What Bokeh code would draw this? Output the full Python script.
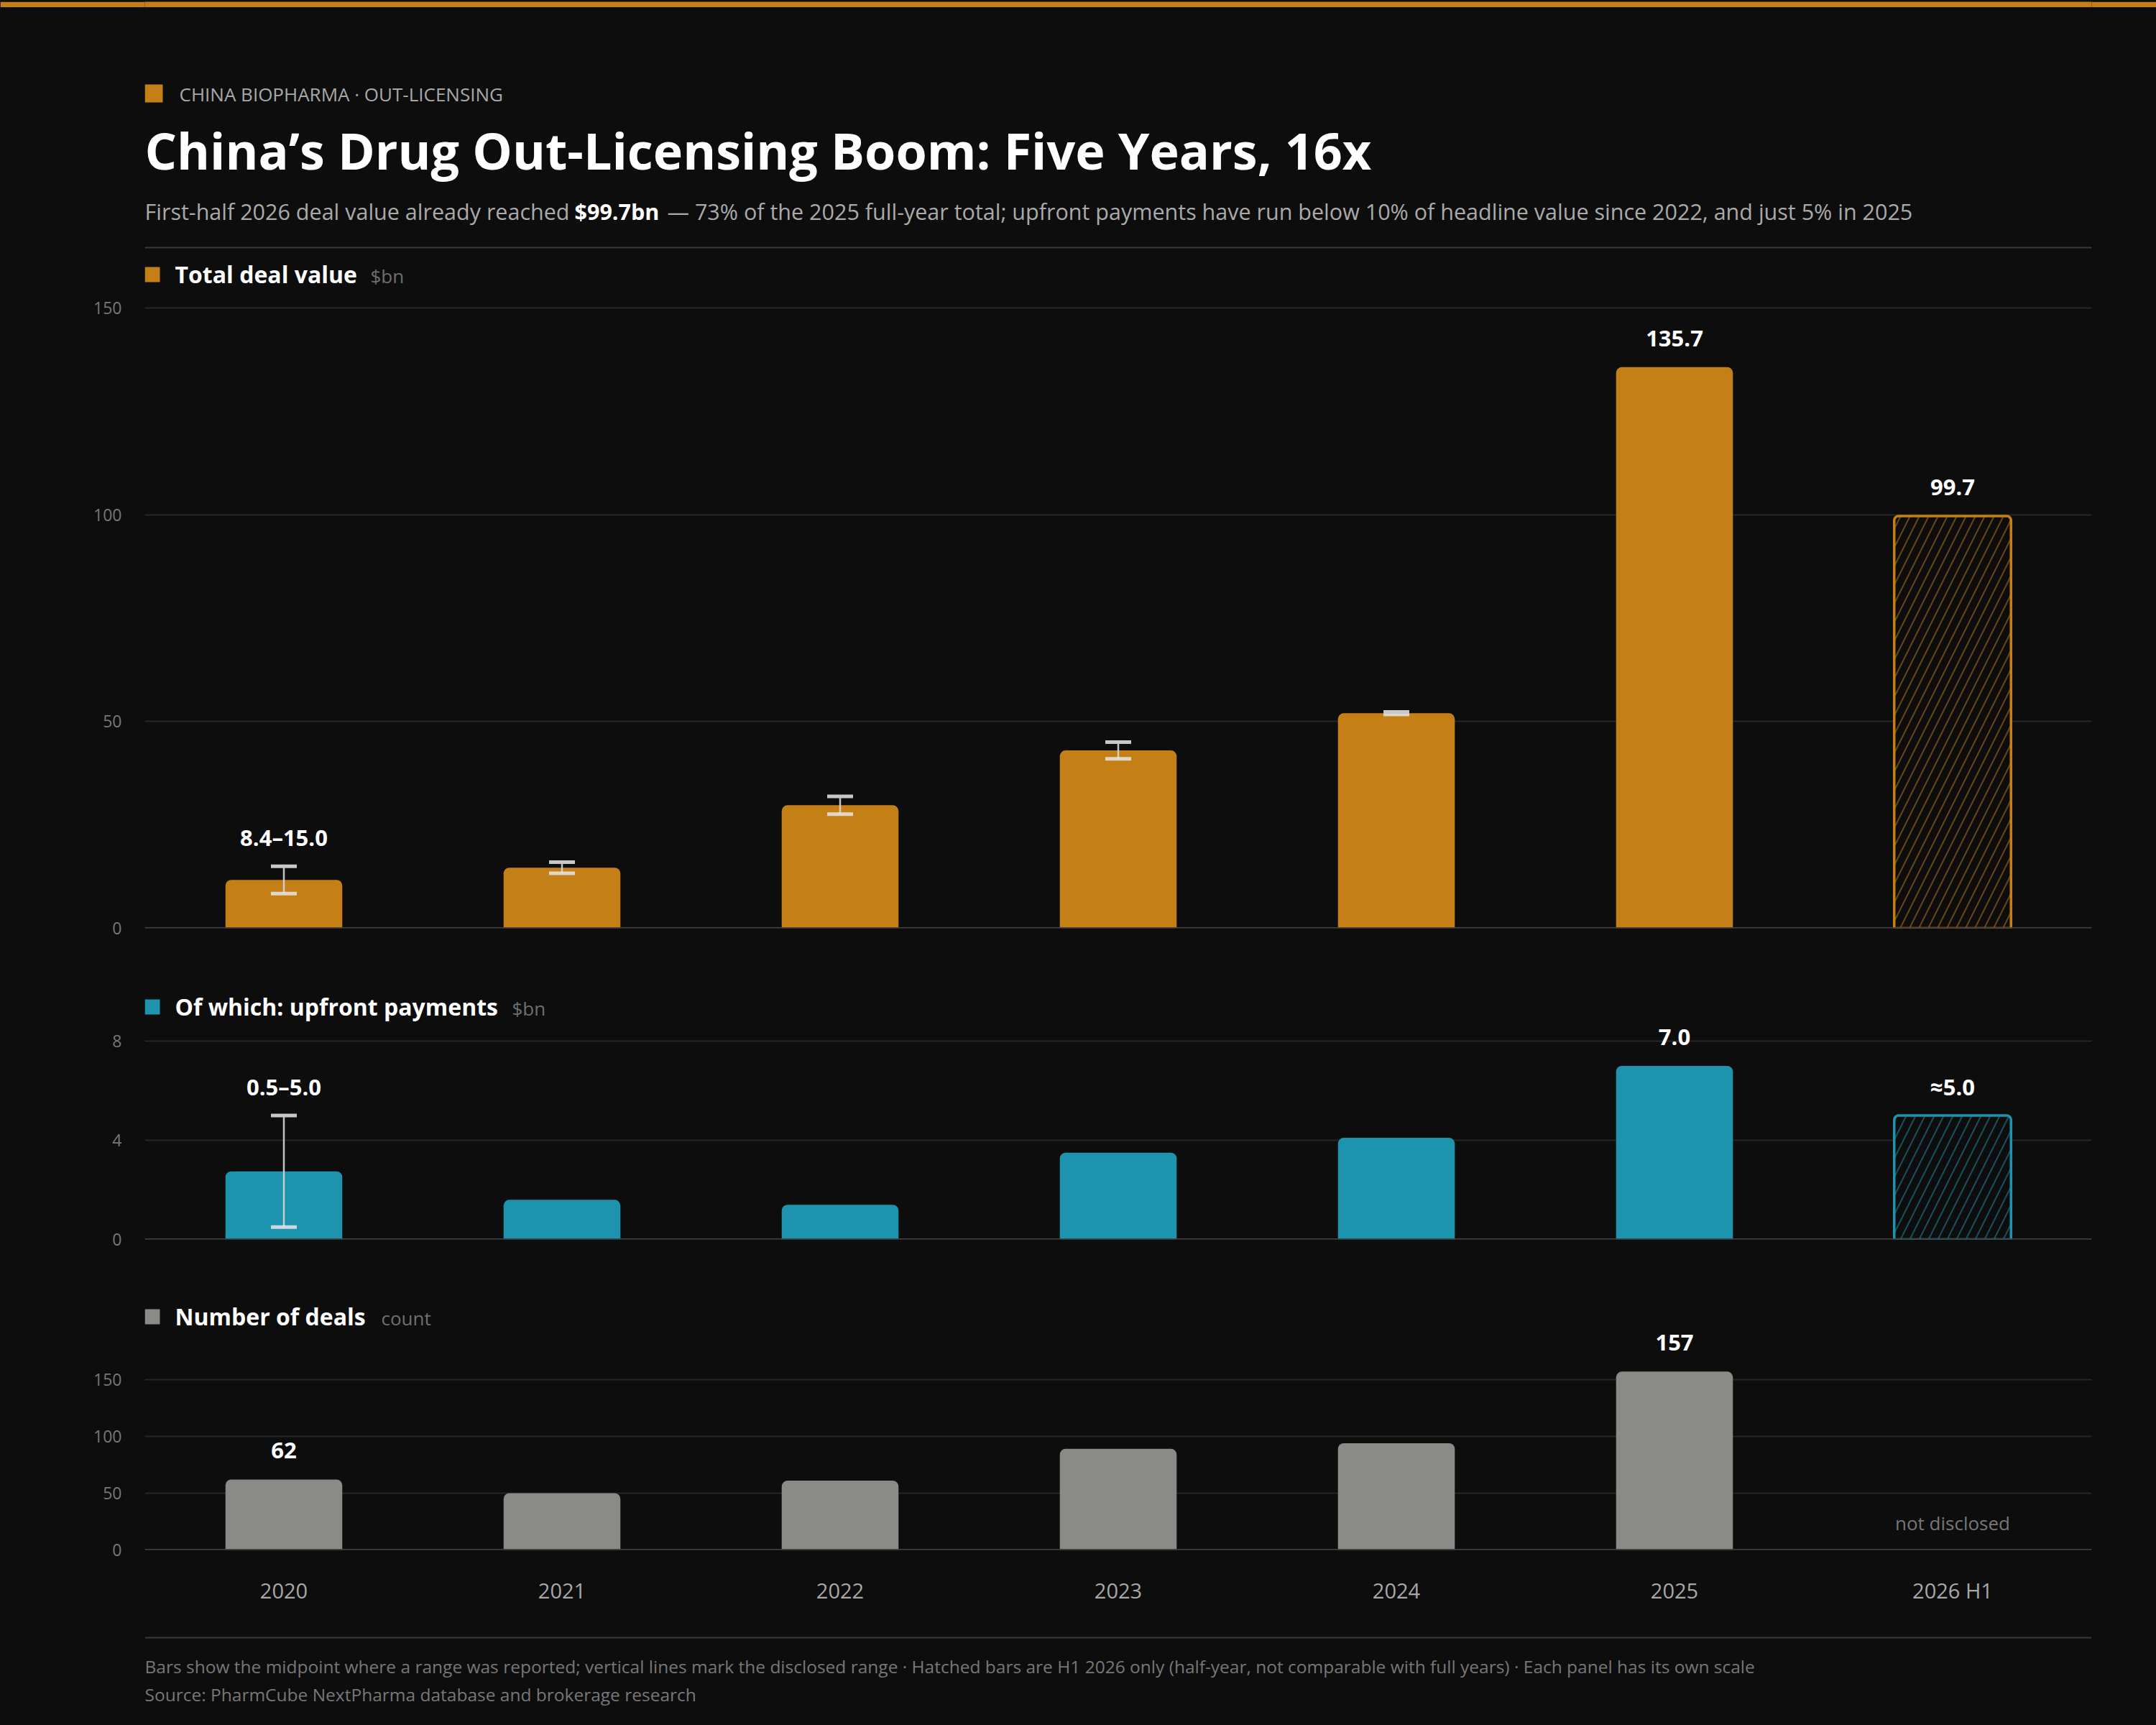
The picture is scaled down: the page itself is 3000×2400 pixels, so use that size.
from bokeh.plotting import figure
from bokeh.models import (Range1d, FixedTicker, Span, Whisker, TeeHead,
                          ColumnDataSource, LinearScale)
from bokeh.layouts import column
from bokeh.embed import file_html
from bokeh.resources import INLINE
from bokeh.core.properties import value

# ---------------- data ----------------
years = ["2020", "2021", "2022", "2023", "2024", "2025", "2026 H1"]

total_value = [11.7, 14.65, 29.75, 43.0, 52.0, 135.7, 99.7]
total_low = [8.4, 13.3, 27.6, 41.0, 51.7, None, None]
total_high = [15.0, 16.0, 31.9, 45.0, 52.3, None, None]
total_labels = ["8.4–15.0", "", "", "", "", "135.7", "99.7"]
total_ticks = [0, 50, 100, 150]

upfront_value = [2.75, 1.6, 1.4, 3.5, 4.1, 7.0, 5.0]
upfront_low = [0.5, None, None, None, None, None, None]
upfront_high = [5.0, None, None, None, None, None, None]
upfront_labels = ["0.5–5.0", "", "", "", "", "7.0", "≈5.0"]
upfront_ticks = [0, 4, 8]

deal_counts = [62, 50, 61, 89, 94, 157, None]
deal_labels = ["62", "", "", "", "", "157", ""]
deal_ticks = [0, 50, 100, 150]

# ---------------- style ----------------
W = 3000
BG = "#0d0d0d"
ORANGE = "#c47f16"
TEAL = "#1e93ae"
GREY = "#8a8b86"
FONT = "Open Sans"
LEFT = 201
RIGHT = 2910

pos = list(range(len(years)))          # category slots on the x axis


def text_fig(y0, y1):
    p = figure(width=W, height=y1 - y0, x_range=Range1d(LEFT, RIGHT), y_range=Range1d(y1, y0),
               output_backend="svg", toolbar_location=None, x_axis_type=None, y_axis_type=None,
               min_border_left=LEFT, min_border_right=W - RIGHT, min_border_top=0, min_border_bottom=0,
               background_fill_color=BG, border_fill_color=BG, outline_line_color=None)
    p.xgrid.visible = False
    p.ygrid.visible = False
    return p


def txt(p, x, y, s, size, color, bold=False, align="left", baseline="middle", **kw):
    p.text(x=[x], y=[y], text=[s], text_font=value(FONT), text_font_size=value(f"{size}px"),
           text_color=color, text_font_style="bold" if bold else "normal",
           text_align=align, text_baseline=baseline, **kw)


def square(p, x0, y0, size, color, **kw):
    p.quad(left=[x0], right=[x0 + size], top=[y0], bottom=[y0 + size], fill_color=color,
           line_color=None, **kw)


# ---------------- top stripe ----------------
stripe = figure(width=W, height=10, output_backend="svg", toolbar_location=None,
                x_axis_type=None, y_axis_type=None, min_border_left=LEFT, min_border_right=W - RIGHT,
                min_border_top=0, min_border_bottom=0,
                background_fill_color=ORANGE, border_fill_color=ORANGE, outline_line_color=None)
stripe.xgrid.visible = False
stripe.ygrid.visible = False
stripe.quad(left=[0], right=[1], top=[1], bottom=[0], fill_color=ORANGE, line_color=None)

# ---------------- header ----------------
h1 = text_fig(10, 350)
square(h1, LEFT, 117, 25, ORANGE)
txt(h1, 249, 130, "CHINA BIOPHARMA · OUT-LICENSING", 26, "#a8a8a8")
txt(h1, LEFT, 208, "China’s Drug Out-Licensing Boom: Five Years, 16x", 70, "#ffffff", bold=True)
txt(h1, LEFT, 293, "First-half 2026 deal value already reached", 30.5, "#aaaaaa")
txt(h1, 799, 293, "$99.7bn", 30.5, "#ffffff", bold=True)
txt(h1, 928, 293, "— 73% of the 2025 full-year total; upfront payments have run below 10% of headline value since 2022, and just 5% in 2025", 30.5, "#aaaaaa")
h1.segment(x0=[LEFT], x1=[RIGHT], y0=[344], y1=[344], line_color="#3a3a3a", line_width=2)


# ---------------- panels ----------------
def panel(vals, lows, highs, labels, ticks, color, fig_top, zero_px, unit_px, bottom_border,
          title, unit, unit_x, title_y, show_x=False):
    frame_h = zero_px - fig_top
    ymax = frame_h / unit_px
    p = figure(width=W, height=frame_h + bottom_border,
               x_range=Range1d(-0.5, len(years) - 0.5),
               y_range=Range1d(0, ymax), output_backend="svg", toolbar_location=None,
               min_border_left=LEFT, min_border_right=W - RIGHT, min_border_top=0,
               min_border_bottom=bottom_border, background_fill_color=BG, border_fill_color=BG,
               outline_line_color=None)
    # page-pixel ranges used only for the panel header
    p.extra_x_ranges = {"px": Range1d(LEFT, RIGHT)}
    p.extra_x_scales = {"px": LinearScale()}
    p.extra_y_ranges = {"py": Range1d(zero_px, fig_top)}
    p.extra_y_scales = {"py": LinearScale()}

    p.xgrid.visible = False
    p.ygrid.ticker = FixedTicker(ticks=ticks)
    p.ygrid.grid_line_color = "#262626"
    p.ygrid.grid_line_width = 2
    p.yaxis.ticker = FixedTicker(ticks=ticks)
    p.yaxis.axis_line_color = None
    p.yaxis.major_tick_line_color = None
    p.yaxis.minor_tick_line_color = None
    p.yaxis.major_label_text_color = "#777777"
    p.yaxis.major_label_text_font = FONT
    p.yaxis.major_label_text_font_size = "23px"
    p.yaxis.major_label_standoff = 26
    if show_x:
        p.xaxis.ticker = FixedTicker(ticks=pos)
        p.xaxis.major_label_overrides = {i: years[i] for i in pos}
        p.xaxis.axis_line_color = None
        p.xaxis.major_tick_line_color = None
        p.xaxis.minor_tick_line_color = None
        p.xaxis.major_label_text_color = "#a8a8a8"
        p.xaxis.major_label_text_font = FONT
        p.xaxis.major_label_text_font_size = "29px"
        p.xaxis.major_label_standoff = 30
    else:
        p.xaxis.visible = False

    # header
    hk = dict(x_range_name="px", y_range_name="py")
    square(p, LEFT, title_y - 10, 21, color, **hk)
    txt(p, 243, title_y, title, 32, "#ffffff", bold=True, **hk)
    txt(p, unit_x, title_y + 2, unit, 26, "#6f6f6f", **hk)

    p.add_layout(Span(location=0, dimension="width", line_color="#444444", line_width=3))

    solid = [i for i in pos if vals[i] is not None and not years[i].endswith("H1")]
    hatch = [i for i in pos if vals[i] is not None and years[i].endswith("H1")]
    p.vbar(x=solid, top=[vals[i] for i in solid], width=0.42,
           fill_color=color, line_color=None, border_radius=(8, 8, 0, 0))
    if hatch:
        p.vbar(x=hatch, top=[vals[i] for i in hatch], width=0.42,
               fill_color=BG, line_color=color, line_width=3.5,
               hatch_pattern="/", hatch_color=color, hatch_alpha=0.5, hatch_scale=26,
               hatch_weight=2, border_radius=(6, 6, 0, 0))

    rng = [i for i in pos if lows[i] is not None]
    if rng:
        src = ColumnDataSource(dict(x=rng, lo=[lows[i] for i in rng], hi=[highs[i] for i in rng]))
        wk = Whisker(source=src, base="x", lower="lo", upper="hi", line_color="#d6d6d6",
                     line_width=2.5, line_alpha=0.9, level="overlay",
                     upper_head=TeeHead(size=36, line_color="#c8c8c8", line_width=5),
                     lower_head=TeeHead(size=36, line_color="#e6e6e6", line_width=5, line_alpha=0.85))
        p.add_layout(wk)

    lab = [i for i in pos if labels[i]]
    lab_y = [highs[i] if highs[i] is not None else vals[i] for i in lab]
    p.text(x=lab, y=lab_y, text=[labels[i] for i in lab],
           text_font=value(FONT), text_font_size=value("31px"), text_font_style="bold",
           text_color="#ffffff", text_align="center", text_baseline="middle", y_offset=-40)
    return p


p1 = panel(total_value, total_low, total_high, total_labels, total_ticks, ORANGE,
           350, 1291, 5.753, 39, "Total deal value", "$bn", 515, 381)

p2 = panel(upfront_value, upfront_low, upfront_high, upfront_labels, upfront_ticks, TEAL,
           1330, 1724, 34.5, 16, "Of which: upfront payments", "$bn", 712, 1400)

none7 = [None] * 7
p3 = panel(deal_counts, none7, none7, deal_labels, deal_ticks, GREY,
           1740, 2156, 1.581, 104, "Number of deals", "count", 530, 1831, show_x=True)
nd = [i for i in pos if deal_counts[i] is None]
p3.text(x=nd, y=[0] * len(nd), text=["not disclosed"] * len(nd), text_font=value(FONT),
        text_font_size=value("26px"), text_color="#777777", text_align="center",
        text_baseline="middle", y_offset=-38)

# ---------------- footer ----------------
f = text_fig(2260, 2400)
f.segment(x0=[LEFT], x1=[RIGHT], y0=[2278], y1=[2278], line_color="#3a3a3a", line_width=2)
txt(f, LEFT, 2318, "Bars show the midpoint where a range was reported; vertical lines mark the disclosed range · Hatched bars are H1 2026 only (half-year, not comparable with full years) · Each panel has its own scale", 24.5, "#777777")
txt(f, LEFT, 2357, "Source: PharmCube NextPharma database and brokerage research", 24.5, "#777777")

layout = column(stripe, h1, p1, p2, p3, f, spacing=0)

html = file_html(layout, INLINE, title="China’s Drug Out-Licensing Boom")
html = html.replace("<head>", "<head><style>html,body{margin:0;padding:0;background:#0d0d0d;}</style>", 1)
open("out.html", "w").write(html)
